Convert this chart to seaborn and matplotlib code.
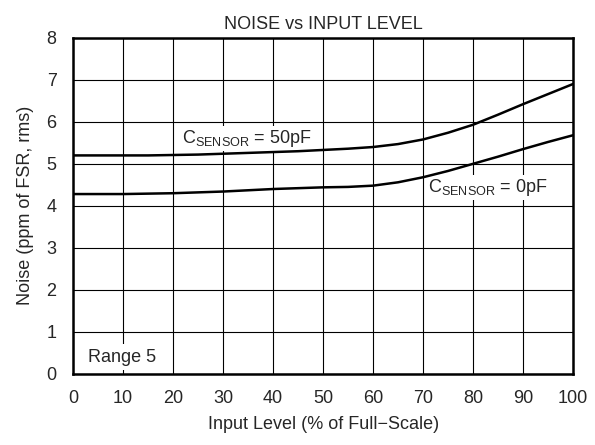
import pandas as pd
import matplotlib
matplotlib.use("Agg")
import matplotlib.pyplot as plt
import seaborn as sns

# values
input_level = [0, 5, 10, 15, 20, 25, 30, 35, 40, 45, 50, 55, 60, 65, 70, 75, 80, 85, 90, 95, 100]
noise_50pf = [5.2, 5.2, 5.2, 5.2, 5.21, 5.22, 5.24, 5.26, 5.28, 5.3, 5.33, 5.36, 5.4, 5.47,
              5.58, 5.74, 5.93, 6.17, 6.42, 6.66, 6.9]
noise_0pf = [4.28, 4.28, 4.28, 4.29, 4.3, 4.32, 4.34, 4.37, 4.4, 4.42, 4.44, 4.45, 4.48, 4.56,
             4.68, 4.83, 5.0, 5.17, 5.35, 5.52, 5.68]
x_ticks = list(range(0, 101, 10))
y_ticks = list(range(0, 9))

sns.set_theme(style="white")
plt.rcParams['font.family'] = ['Liberation Sans', 'DejaVu Sans']
plt.rcParams['mathtext.fontset'] = 'custom'
plt.rcParams['mathtext.rm'] = 'Liberation Sans'

df = pd.DataFrame({
    'x': input_level * 2,
    'y': noise_50pf + noise_0pf,
    'series': ['50pF'] * len(input_level) + ['0pF'] * len(input_level),
})

fig, ax = plt.subplots(figsize=(5.95, 4.45), dpi=100)
fig.subplots_adjust(left=0.123, right=0.963, top=0.915, bottom=0.16)

# curves sit above the white label boxes
sns.lineplot(data=df, x='x', y='y', hue='series', palette=['black', 'black'],
             linewidth=1.8, legend=False, ax=ax, zorder=5)

ax.set_xlim(0, 100)
ax.set_ylim(0, 8)
ax.set_xticks(x_ticks)
ax.set_yticks(y_ticks)
ax.grid(True, color='black', linewidth=0.8)
ax.tick_params(length=0, labelsize=13, pad=12)
for s in ax.spines.values():
    s.set_color('black')
    s.set_linewidth(1.8)
    s.set_zorder(6)

ax.set_title('NOISE vs INPUT LEVEL', fontsize=13, pad=6.5)
ax.set_xlabel('Input Level (% of Full\u2212Scale)', fontsize=13, labelpad=6)
ax.set_ylabel('Noise (ppm of FSR, rms)', fontsize=13, labelpad=9)

box = dict(facecolor='white', edgecolor='none', pad=1.5)
ax.text(21.7, 5.5, r'C$_{\mathregular{SENSOR}}$ = 50pF', fontsize=13, va='baseline',
        bbox=box, zorder=4)
ax.text(71, 4.33, r'C$_{\mathregular{SENSOR}}$ = 0pF', fontsize=13, va='baseline',
        bbox=box, zorder=4)
ax.text(3.06, 0.29, 'Range 5', fontsize=13, va='baseline',
        bbox=dict(facecolor='white', edgecolor='none', pad=3), zorder=4)

fig.savefig('out.png', dpi=100)
